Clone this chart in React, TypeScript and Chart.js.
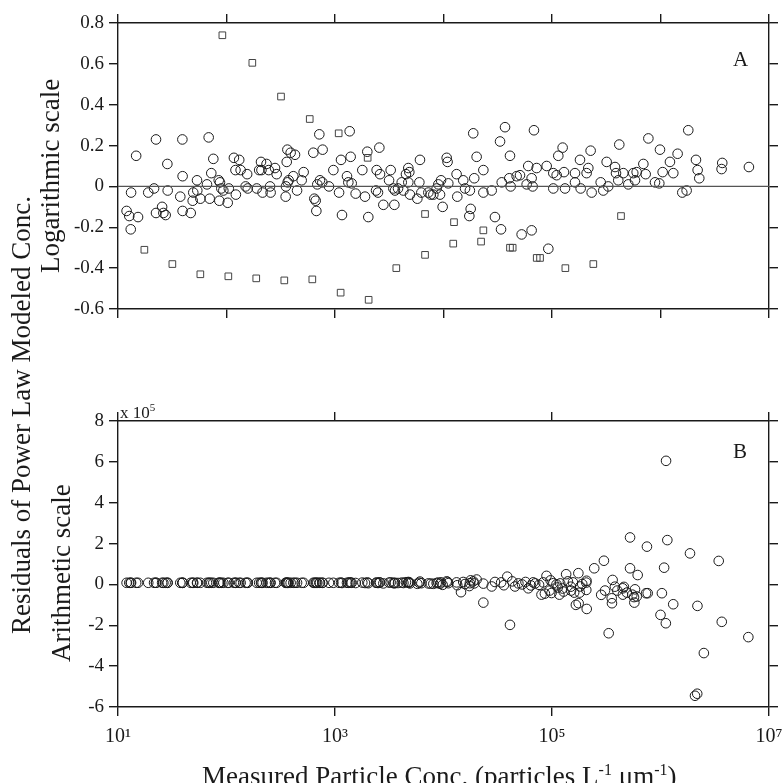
import React, { useEffect, useRef } from "react";
import { Chart, registerables } from "chart.js";

Chart.register(...registerables);

const FONT = "'Liberation Serif', 'Times New Roman', serif";
const INK = "#1a1a1a";

// ---------- axis ticks ----------
const decadesA = [1e1, 1e2, 1e3, 1e4, 1e5, 1e6, 1e7];
const decadesB = [1e1, 1e3, 1e5, 1e7];
const xTickLabelsB = ["10¹", "10³", "10⁵", "10⁷"];

// ---------- Panel A: logarithmic-scale residuals (circles) ----------
const circleConcA = [
  12, 13.1, 13.2, 12.7, 14.7, 15.3, 19, 21.5, 22.4, 22.4, 25.5, 26.2, 27.5, 28.5, 28.7,
  37.5, 39.4, 39.2, 39.4, 46.8, 48.8, 49.4, 53.8, 53.5, 57.4, 68.5, 66.1, 72.4, 75.6, 70,
  84.8, 87.1, 89.6, 93.5, 105, 85.9, 102.6, 117, 121, 131, 135, 122, 150, 155, 157,
  190, 208, 200, 210, 234, 245, 215, 255, 252, 280, 290, 364, 359, 353, 351, 366, 374,
  390, 428, 413, 447, 514, 493, 631, 717, 769, 645, 664, 673, 687, 727, 764, 880, 966,
  1090, 1136, 1160, 1290, 1327, 1394, 1365, 1425, 1550, 1785, 1890, 2027, 1985, 2420,
  2563, 2390, 2490, 2790, 3260, 3150, 3450, 3525, 3810,
  2600, 3570, 4120, 4270, 4510, 4740, 4840, 4740, 4910, 5740, 6070, 5990, 6250, 7250,
  7620, 8060, 8650, 8960, 9290, 9490, 9820, 10700, 10900, 11070, 13200, 13400, 15200,
  15800, 17500, 17800, 17300, 18800, 19200, 20200, 23300, 23300, 27800, 29800, 33200,
  33900, 34400, 36900, 41000, 40400, 41600, 47200, 50700, 52500, 58400, 60400, 64900,
  66300, 68200, 64900, 72200, 89300, 92500, 102800, 102800, 110400, 114300, 125300,
  129000, 131800, 162900, 162900, 181100, 183700, 208500, 216100, 227000, 232000,
  281000, 297000, 319000, 330000, 381000, 389000, 417000, 408000, 505000, 454000,
  561000, 582000, 603000, 695000, 730000, 773000, 890000, 975000, 989000, 1047000,
  1222000, 1312000, 1438000, 1588000, 1741000, 1803000, 2123000, 2199000, 2277000,
  3708000, 3656000, 6530000,
];
const circleResidA = [
  -0.12, -0.21, -0.03, -0.145, 0.15, -0.15, -0.03, -0.01, 0.23, -0.13, -0.1, -0.13, -0.14, 0.11, -0.02,
  -0.05, 0.05, 0.23, -0.12, -0.13, -0.07, -0.03, -0.02, 0.03, -0.06, 0.24, 0.01, 0.065, 0.135, -0.06,
  0.03, 0.02, -0.01, -0.02, -0.01, -0.07, -0.08, 0.14, 0.08, 0.13, 0.08, -0.04, 0.0, 0.06, -0.01,
  -0.01, 0.12, 0.08, 0.08, 0.11, 0.08, -0.03, -0.03, 0.0, 0.09, 0.06, 0.18, 0.12, 0.0, -0.05, 0.02, 0.03,
  0.165, 0.155, 0.05, -0.02, 0.07, 0.03, 0.165, 0.255, 0.18, -0.06, -0.07, -0.12, 0.01, 0.03, 0.02, 0.0, 0.08,
  -0.03, 0.13, -0.14, 0.05, 0.02, 0.145, 0.27, 0.015, -0.035, 0.08, -0.05, -0.15, 0.17, 0.08,
  0.19, -0.02, -0.03, -0.09, 0.08, 0.03, -0.01, -0.09, -0.01,
  0.06, -0.02, 0.02, -0.02, 0.06, 0.09, 0.07, 0.02, -0.04, -0.06, 0.13, 0.02, -0.03, -0.03,
  -0.04, -0.04, -0.01, 0.01, -0.04, 0.03, -0.1, 0.14, 0.12, 0.015, 0.06, -0.05, 0.03,
  -0.01, -0.02, -0.11, -0.145, 0.26, 0.04, 0.145, 0.08, -0.03, -0.02, -0.15, 0.22,
  -0.21, 0.02, 0.29, 0.15, 0.04, 0.0, 0.05, 0.055, -0.235, 0.01, 0.1, 0.04,
  0.0, 0.275, -0.215, 0.09, 0.1, -0.305, -0.01, 0.065, 0.055, 0.15, 0.19,
  0.07, -0.01, 0.065, 0.02, 0.13, -0.01, 0.065, 0.09, 0.175, -0.03,
  0.02, -0.02, 0.12, 0.0, 0.095, 0.065, 0.205, 0.03, 0.01, 0.065,
  0.065, 0.03, 0.07, 0.11, 0.06, 0.235, 0.02, 0.015, 0.18, 0.07,
  0.12, 0.065, 0.16, -0.03, -0.02, 0.275, 0.13, 0.08, 0.04,
  0.115, 0.085, 0.095,
];

// ---------- Panel A: logarithmic-scale residuals (squares) ----------
const squareConcA = [
  91.6, 173, 318, 585, 1081, 2000, 6760, 12500, 23300, 432600,
  17.5, 31.7, 57.4, 104, 188, 341, 618, 1127, 2042, 3673,
  6760, 12300, 22200, 41000, 43400, 72300, 77600, 132800, 240400,
];
const squareResidA = [
  0.74, 0.605, 0.44, 0.33, 0.26, 0.14, -0.135, -0.175, -0.215, -0.145,
  -0.31, -0.38, -0.43, -0.44, -0.45, -0.46, -0.455, -0.52, -0.555, -0.4,
  -0.335, -0.28, -0.27, -0.3, -0.3, -0.35, -0.35, -0.4, -0.38,
];

// ---------- Panel B: arithmetic-scale residuals (x 10^5) ----------
const concB = [
  12, 12.7, 13.1, 13.2, 14.7, 15.3, 19, 21.5, 22.4, 22.4, 25.5, 26.2, 27.5, 28.5, 28.7,
  37.5, 39.2, 39.4, 39.4, 46.8, 48.8, 49.4, 53.5, 53.8, 57.4, 66.1, 68.5, 70, 72.4, 75.6,
  84.8, 85.9, 87.1, 89.6, 93.5, 102.6, 105, 117, 121, 122, 131, 135, 150, 155, 157,
  190, 200, 208, 210, 215, 234, 245, 252, 255, 280, 290, 351, 353, 359, 364, 366, 374,
  390, 413, 428, 447, 493, 514, 631, 645, 664, 673, 687, 717, 727, 764, 769, 880, 966,
  1090, 1136, 1160, 1290, 1327, 1365, 1394, 1425, 1550, 1785, 1890, 1985, 2027, 2390,
  2420, 2490, 2563, 2600, 2790, 3150, 3260, 3450, 3525, 3570, 3810, 4120, 4270, 4510,
  4740, 4740, 4840, 4910, 5740, 5990, 6070, 6250, 7250, 7620, 8060, 8650, 8960, 9290,
  9490, 9820,
  10700, 10900, 11070, 13200, 13400, 14500, 15200, 15800, 17300, 17500, 17800, 18800,
  19200, 20200, 23300, 23300, 27800, 29800,
  34000, 36000, 38700, 41000, 43000, 45600, 49000, 53000, 57000, 60500, 64000, 67000,
  70000, 76000, 80000, 83000, 86000, 89000, 95000, 97000, 99000, 103000, 110000, 113000,
  117000, 119000, 125000, 128000, 135000, 140000, 149000, 150000, 156000, 160000, 166000,
  175000, 176000, 180000, 182000, 190000, 207000, 207000, 208000, 209000,
  245000, 284000, 301000, 308000, 333000, 355000, 357000, 362000, 380000, 400000,
  448000, 450000, 460000, 490000, 524000, 524000, 550000, 570000, 574000, 582000,
  604000, 616000, 736000, 750000, 762000, 1000000, 1030000, 1080000, 1125000, 1120000,
  1156000, 1310000, 1870000, 2080000, 2180000, 2190000, 2510000, 3440000, 3670000, 6450000,
];
const residB = [
  0.08, 0.08, 0.08, 0.08, 0.08, 0.08, 0.08, 0.08, 0.08, 0.08, 0.08, 0.08, 0.08, 0.08, 0.08,
  0.08, 0.08, 0.08, 0.08, 0.08, 0.08, 0.08, 0.08, 0.08, 0.08, 0.08, 0.08, 0.08, 0.08, 0.08,
  0.08, 0.08, 0.08, 0.08, 0.08, 0.08, 0.08, 0.08, 0.08, 0.08, 0.08, 0.08, 0.08, 0.08, 0.08,
  0.08, 0.08, 0.08, 0.08, 0.08, 0.08, 0.08, 0.08, 0.08, 0.08, 0.08, 0.08, 0.08, 0.08, 0.08, 0.08, 0.08,
  0.08, 0.08, 0.08, 0.08, 0.08, 0.08, 0.08, 0.08, 0.08, 0.08, 0.08, 0.08, 0.08, 0.08, 0.08, 0.08, 0.08,
  0.08, 0.09, 0.07, 0.08, 0.08, 0.1, 0.09, 0.08, 0.07, 0.09, 0.07, 0.1, 0.06, 0.08,
  0.09, 0.07, 0.1, 0.09, 0.05, 0.09, 0.1, 0.08, 0.05, 0.08, 0.07, 0.09, 0.07, 0.11,
  0.12, 0.08, 0.1, 0.05, 0.03, 0.08, 0.14, 0.06, 0.05, 0.04, 0.03, 0.07, 0.09, 0.03,
  0.1, -0.02,
  0.15, 0.12, 0.06, 0.1, -0.04, -0.38, 0.12, 0.02, -0.08, 0.06, 0.2, 0.15,
  0.05, 0.24, -0.89, 0.04, -0.1, 0.12,
  0.1, -0.04, 0.38, -1.98, 0.15, -0.1, 0.05, 0.0, 0.12, -0.19, -0.05, 0.1,
  0.05, -0.02, -0.5, 0.1, -0.45, 0.42, -0.3, 0.2, -0.42, 0.06, 0.0, -0.15,
  -0.5, 0.05, -0.2, -0.35, 0.5, 0.15, -0.11, -0.3, 0.1, -0.4, -1.0,
  0.55, -0.92, -0.4, -0.1, 0.02, 0.09, -0.27, 0.18, -1.2,
  0.79, -0.51, 1.16, -0.3, -2.39, -0.68, -0.92, 0.22, -0.11, -0.3,
  -0.19, -0.5, -0.12, -0.4, 2.3, 0.79, -0.5, -0.62, -0.89, -0.24,
  -0.59, 0.46, -0.43, 1.85, -0.43, -1.49, -0.43, 0.82, 6.05, -1.9,
  2.17, -0.97, 1.52, -5.45, -5.35, -1.05, -3.36, 1.15, -1.83, -2.58,
];

// zero reference line of panel A
const zeroLineConc = [1e1, 1e7];
const zeroLineResid = [0, 0];

const toPoints = (xs: number[], ys: number[]) => xs.map((x, i) => ({ x, y: ys[i] }));

function frameAxes(opts: {
  decades: number[];
  xLabels: string[] | null;
  yMin: number;
  yMax: number;
  yStep: number;
  topH: number;
  bottomH: number;
}) {
  const grid = {
    display: true,
    drawOnChartArea: false,
    drawTicks: true,
    tickLength: 9,
    color: INK,
    lineWidth: 1.4,
  };
  const border = { display: true, color: INK, width: 1.4 };
  const setTicks = (s: any) => {
    s.ticks = opts.decades.map((v) => ({ value: v }));
  };
  const noPad = (s: any) => {
    s.paddingLeft = 0;
    s.paddingRight = 0;
    s.paddingTop = 0;
    s.paddingBottom = 0;
  };
  return {
    x: {
      type: "logarithmic",
      position: "bottom",
      min: 1e1,
      max: 1e7,
      grid,
      border,
      afterBuildTicks: setTicks,
      afterFit: (s: any) => {
        s.height = opts.bottomH;
        noPad(s);
      },
      ticks: {
        display: !!opts.xLabels,
        autoSkip: false,
        maxRotation: 0,
        padding: 9,
        color: INK,
        font: { family: FONT, size: 20 },
        callback: (_v: any, i: number) => (opts.xLabels ? opts.xLabels[i] : ""),
      },
    },
    xTop: {
      type: "logarithmic",
      position: "top",
      min: 1e1,
      max: 1e7,
      grid,
      border,
      afterBuildTicks: setTicks,
      afterFit: (s: any) => {
        s.height = opts.topH;
        noPad(s);
      },
      ticks: { display: false, autoSkip: false },
    },
    y: {
      type: "linear",
      position: "left",
      min: opts.yMin,
      max: opts.yMax,
      grid,
      border,
      afterFit: (s: any) => {
        s.width = 118;
        noPad(s);
      },
      ticks: {
        stepSize: opts.yStep,
        padding: 5,
        color: INK,
        font: { family: FONT, size: 19 },
      },
    },
    yRight: {
      type: "linear",
      position: "right",
      min: opts.yMin,
      max: opts.yMax,
      grid,
      border,
      afterFit: (s: any) => {
        s.width = 13;
        noPad(s);
      },
      ticks: { stepSize: opts.yStep, display: false },
    },
  };
}

const circleStyle = {
  pointStyle: "circle",
  pointRadius: 4.8,
  pointBorderWidth: 1,
  pointBorderColor: INK,
  pointBackgroundColor: "rgba(0,0,0,0)",
  showLine: false,
};

export default function App() {
  const refA = useRef<HTMLCanvasElement>(null);
  const refB = useRef<HTMLCanvasElement>(null);

  useEffect(() => {
    const common = {
      responsive: false,
      animation: false,
      devicePixelRatio: 1,
      events: [],
      layout: { padding: 0 },
      plugins: { legend: { display: false }, tooltip: { enabled: false } },
    };

    const chartA = new Chart(refA.current as HTMLCanvasElement, {
      type: "scatter",
      data: {
        datasets: [
          {
            data: toPoints(zeroLineConc, zeroLineResid),
            showLine: true,
            borderColor: "#555",
            borderWidth: 1.2,
            pointRadius: 0,
          },
          {
            data: toPoints(squareConcA, squareResidA),
            pointStyle: "rect",
            pointRadius: 4.7,
            pointBorderWidth: 1,
            pointBorderColor: "#444",
            pointBackgroundColor: "rgba(0,0,0,0)",
            showLine: false,
          },
          { data: toPoints(circleConcA, circleResidA), ...circleStyle },
        ],
      } as any,
      options: {
        ...common,
        scales: frameAxes({
          decades: decadesA,
          xLabels: null,
          yMin: -0.6,
          yMax: 0.8,
          yStep: 0.2,
          topH: 23,
          bottomH: 31,
        }),
      } as any,
    });

    const chartB = new Chart(refB.current as HTMLCanvasElement, {
      type: "scatter",
      data: {
        datasets: [{ data: toPoints(concB, residB), ...circleStyle }],
      } as any,
      options: {
        ...common,
        scales: frameAxes({
          decades: decadesB,
          xLabels: xTickLabelsB,
          yMin: -6,
          yMax: 8,
          yStep: 2,
          topH: 31,
          bottomH: 76,
        }),
      } as any,
    });

    return () => {
      chartA.destroy();
      chartB.destroy();
    };
  }, []);

  const text = (size: number): React.CSSProperties => ({
    position: "absolute",
    fontFamily: FONT,
    fontSize: size,
    lineHeight: `${size}px`,
    whiteSpace: "nowrap",
    color: INK,
  });
  const vertical = (size: number, left: number, bottom: number): React.CSSProperties => ({
    ...text(size),
    left,
    top: bottom,
    transform: "rotate(-90deg)",
    transformOrigin: "0 0",
  });

  return (
    <div
      style={{
        position: "absolute",
        left: 0,
        top: 0,
        width: 782,
        height: 783,
        background: "#fff",
        overflow: "hidden",
      }}
    >
      <canvas ref={refA} width={782} height={340} style={{ position: "absolute", left: 0, top: 0 }} />
      <canvas ref={refB} width={782} height={393} style={{ position: "absolute", left: 0, top: 390 }} />

      <div style={vertical(27, 8, 634)}>Residuals of Power Law Modeled Conc.</div>
      <div style={vertical(27, 37, 273)}>Logarithmic scale</div>
      <div style={vertical(27, 48, 662)}>Arithmetic scale</div>

      <div style={{ ...text(27), left: 202, top: 756 }}>
        Measured Particle Conc. (particles L
        <span style={{ fontSize: 16, verticalAlign: "10px" }}>-1</span> μm
        <span style={{ fontSize: 16, verticalAlign: "10px" }}>-1</span>)
      </div>

      <div style={{ ...text(21), left: 733, top: 49 }}>A</div>
      <div style={{ ...text(21), left: 733, top: 441 }}>B</div>

      <div style={{ ...text(17), left: 120, top: 399 }}>
        x 10<span style={{ fontSize: 11, verticalAlign: "7px" }}>5</span>
      </div>
    </div>
  );
}
